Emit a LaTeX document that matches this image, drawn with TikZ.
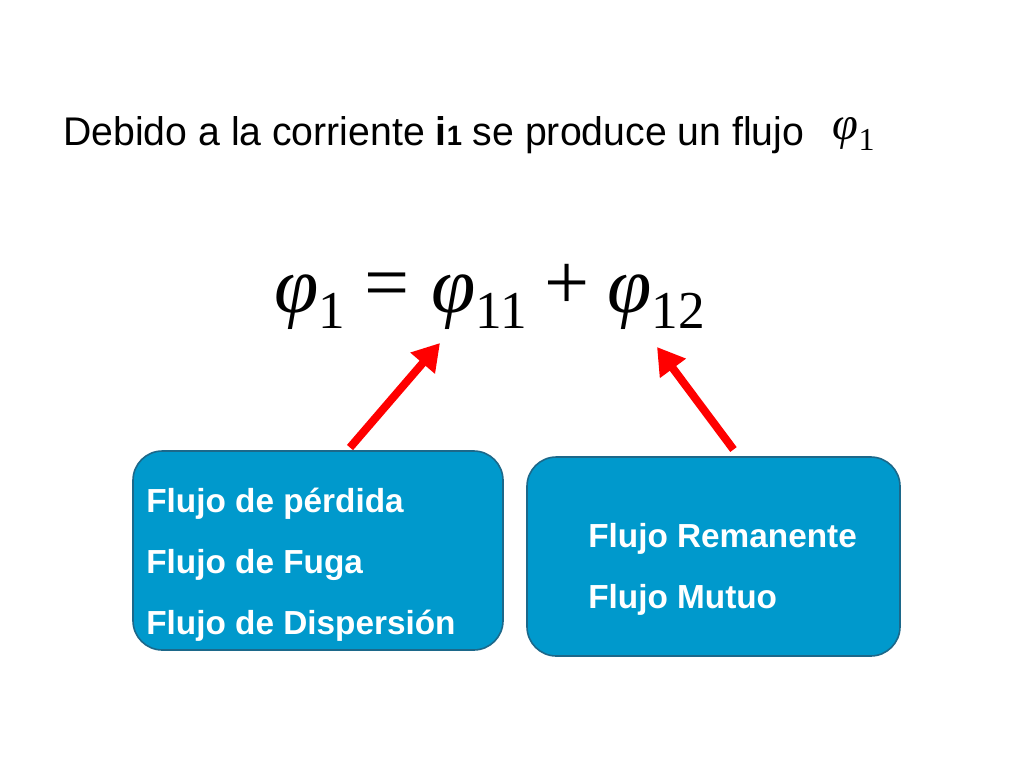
\documentclass[tikz,border=0pt]{standalone}
\usepackage{fontspec}
\setmainfont{Liberation Sans}
\newfontfamily\titfont{Liberation Sans}[FakeStretch=0.98]
\newfontfamily\tnr{Liberation Serif}
\usetikzlibrary{arrows.meta}

\definecolor{flublue}{RGB}{0,153,204}
\definecolor{fluedge}{RGB}{28,104,138}
\definecolor{flured}{RGB}{255,0,0}

\tikzset{
  flubox/.style={draw=fluedge,line width=1.2pt,fill=flublue,rounded corners=22pt,inner sep=0pt},
  flutext/.style={text=white,font=\fontsize{25}{45.75}\selectfont\bfseries,align=left,inner sep=0pt},
  eqpart/.style={font=\tnr\fontsize{60}{62}\selectfont,inner sep=0pt,anchor=base west},
  fluarrow/.style={draw=flured,line width=6pt,-{Triangle[length=20pt,width=23pt]}},
}

\newcommand{\phisub}[1]{{\itshape φ}\raisebox{-12pt}{\fontsize{40}{40}\selectfont #1}}

\begin{document}
\begin{tikzpicture}[x=0.75pt,y=-0.75pt,line join=round]
  \useasboundingbox (0,0) rectangle (1024,768);

  % enunciado
  \node[anchor=base west,inner sep=0pt,font=\titfont\fontsize{30}{36}\selectfont] (titulo) at (63,145)
    {Debido a la corriente {\bfseries i{\fontsize{21}{21}\selectfont 1}} se produce un flujo\hspace{21.5pt}{\tnr\raisebox{4.5pt}{\fontsize{35}{35}\selectfont\itshape φ}\raisebox{-3.75pt}{\fontsize{24}{24}\selectfont 1}}};

  % ecuacion del flujo
  \node[eqpart] (phi1)  at (274,312) {\phisub{1}};
  \node[eqpart] (igual) at (364,309) {=};
  \node[eqpart] (phi11) at (431,312) {\phisub{11}};
  \node[eqpart] (mas)   at (544,309) {+};
  \node[eqpart] (phi12) at (607,312) {\phisub{12}};

  % cajas
  \node[flubox,minimum width=277.5pt,minimum height=149.25pt] (perdida) at (318,550.5) {};
  \node[flubox,minimum width=279.75pt,minimum height=149.25pt] (remanente) at (713.5,556.5) {};

  \node[flutext,anchor=base west] (txtperd) at (146,634)
    {Flujo de pérdida\\Flujo de Fuga\\Flujo de Dispersión};
  \node[flutext,anchor=base west] (txtrem) at (588,608)
    {Flujo Remanente\\Flujo Mutuo};

  % flechas
  \coordinate (p11) at (440,343);
  \coordinate (p12) at (657,347);
  \draw[fluarrow] ([xshift=24pt,yshift=2pt]perdida.north) -- (p11);
  \draw[fluarrow] ([xshift=15pt,yshift=5pt]remanente.north) -- (p12);
\end{tikzpicture}
\end{document}
